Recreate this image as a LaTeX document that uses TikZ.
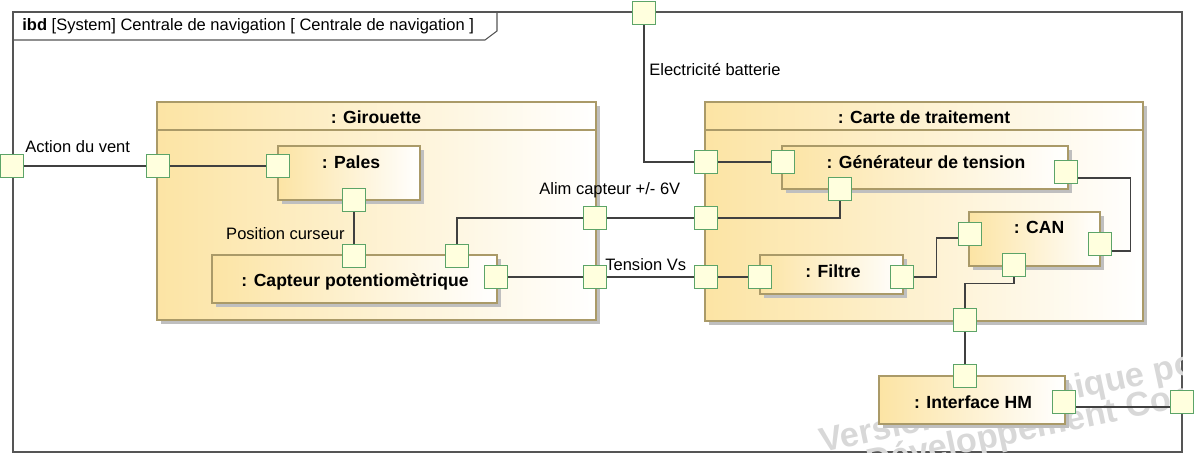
\documentclass[tikz,border=0pt]{standalone}
\usepackage{fontspec}
\setmainfont{Liberation Sans}
\usepackage{tikz}
\usetikzlibrary{positioning, fit, calc, shadows}
\definecolor{partorange}{RGB}{252,228,164}
\definecolor{partborder}{RGB}{170,154,104}
\definecolor{portgreen}{RGB}{92,164,104}
\definecolor{portyellow}{RGB}{255,255,222}
\definecolor{wiregray}{RGB}{64,64,64}
\definecolor{framegray}{RGB}{85,85,85}
\definecolor{markgray}{RGB}{216,216,216}

\begin{document}
\begin{tikzpicture}[x=0.02cm, y=-0.02cm,
    partbox/.style={draw=partborder, line width=0.6pt, left color=partorange, right color=white, inner sep=0pt,
        drop shadow={shadow xshift=2.2pt, shadow yshift=-2.2pt, fill=black!25, opacity=1}},
    portbox/.style={draw=portgreen, line width=0.7pt, fill=portyellow, minimum size=0.46cm, inner sep=0pt},
    wire/.style={draw=wiregray, line width=0.6pt},
    parttitle/.style={font=\fontsize{10}{12}\selectfont\bfseries, inner sep=0pt},
    marktext/.style={font=\fontsize{19.5}{22}\selectfont\bfseries, text=markgray, rotate=12, anchor=base west, inner sep=0pt},
    lbl/.style={font=\fontsize{9.4}{11}\selectfont, inner sep=0pt}]
\useasboundingbox (0,0) rectangle (1194,456);

% Frame
\draw[framegray, line width=0.6pt] (13,12) rectangle (1182,452);
\draw[framegray, line width=0.6pt] (13,40) -- (485,40) -- (497,31) -- (497,12);
\node[lbl, anchor=west] (header) at (22,26) {\textbf{ibd} [System] Centrale de navigation [ Centrale de navigation ]};

% Watermark
\begin{scope}
    \clip (13,12) rectangle (1182,452);
    \node[marktext] (mark1) at (822,453) {Version académique pour};
    \node[marktext] (mark2) at (869,474) {Développement Commercial};
\end{scope}

% Parts
\node[partbox, fit={(157,102) (596,320)}] (girouette) {};
\draw[partborder, line width=0.6pt] (girouette.west |- 0,130) -- (girouette.east |- 0,130);
\node[parttitle] (girouetteT) at (376,117) {: Girouette};

\node[partbox, fit={(705,102) (1143,321)}] (carte) {};
\draw[partborder, line width=0.6pt] (carte.west |- 0,130) -- (carte.east |- 0,130);
\node[parttitle] (carteT) at (924,117) {: Carte de traitement};

\node[partbox, fit={(278,146) (420,200)}] (pales) {};
\node[parttitle] (palesT) at (351,162) {: Pales};

\node[partbox, fit={(212,255) (497,303)}] (capteur) {};
\node[parttitle] (capteurT) at (355,282) {: Capteur potentiomètrique};

\node[partbox, fit={(782,146) (1068,189)}] (gen) {};
\node[parttitle] (genT) at (926,162) {: Générateur de tension};

\node[partbox, fit={(969,212) (1100,266)}] (can) {};
\node[parttitle] (canT) at (1039,227) {: CAN};

\node[partbox, fit={(760,255) (903,294)}] (filtre) {};
\node[parttitle] (filtreT) at (833,271) {: Filtre};

\node[partbox, fit={(879,376) (1065,424)}] (ihm) {};
\node[parttitle] (ihmT) at (973,402) {: Interface HM};

% Ports
\node[portbox] (pFrameL) at (12,166) {};
\node[portbox] (pFrameR) at (1182,402) {};
\node[portbox] (pTop) at (644,13) {};
\node[portbox] (pGirL) at (158,166) {};
\node[portbox] (pGirR1) at (595,218) {};
\node[portbox] (pGirR2) at (595,277) {};
\node[portbox] (pPalesL) at (278,166) {};
\node[portbox] (pPalesB) at (354,200) {};
\node[portbox] (pCapT1) at (354,256) {};
\node[portbox] (pCapT2) at (457,256) {};
\node[portbox] (pCapR) at (496,277) {};
\node[portbox] (pCarteL1) at (706,162) {};
\node[portbox] (pCarteL2) at (706,218) {};
\node[portbox] (pCarteL3) at (706,277) {};
\node[portbox] (pCarteB) at (965,320) {};
\node[portbox] (pGenL) at (783,162) {};
\node[portbox] (pGenB) at (840,189) {};
\node[portbox] (pGenR) at (1066,172) {};
\node[portbox] (pCanL) at (970,234) {};
\node[portbox] (pCanR) at (1100,244) {};
\node[portbox] (pCanB) at (1014,265) {};
\node[portbox] (pFiltreL) at (760,277) {};
\node[portbox] (pFiltreR) at (902,277) {};
\node[portbox] (pIhmT) at (965,376) {};
\node[portbox] (pIhmR) at (1064,402) {};

% Connectors
\draw[wire] (pFrameL) -- (pGirL);
\draw[wire] (pGirL) -- (pPalesL);
\draw[wire] (pPalesB) -- (pCapT1);
\draw[wire] (pCapT2) |- (pGirR1);
\draw[wire] (pCapR) -- (pGirR2);
\draw[wire] (pGirR1) -- (pCarteL2);
\draw[wire] (pGirR2) -- (pCarteL3);
\draw[wire] (pTop) |- (pCarteL1);
\draw[wire] (pCarteL1) -- (pGenL);
\draw[wire] (pCarteL2) -| (pGenB);
\draw[wire] ($(pGenR.east)+(0,6)$) -- ++(52,0) |- ($(pCanR.east)+(0,7)$);
\draw[wire] (pCarteL3) -- (pFiltreL);
\draw[wire] (pFiltreR.east) -- ++(22,0) |- ($(pCanL.west)+(0,4)$);
\draw[wire] (pCanB.south) -- ++(0,6) -| (pCarteB);
\draw[wire] (pCarteB) -- (pIhmT);
\draw[wire] ($(pIhmR.east)+(0,5)$) -- ($(pFrameR.west)+(0,5)$);

% Labels
\node[lbl, anchor=west] (ventL) at (25,147) {Action du vent};
\node[lbl, anchor=east] (curseurL) at (345,234) {Position curseur};
\node[lbl, anchor=west] (alimL) at (539,190) {Alim capteur +/- 6V};
\node[lbl, anchor=west] (tensionL) at (605,265) {Tension Vs};
\node[lbl, anchor=west] (batterieL) at (649,70) {Electricité batterie};
\end{tikzpicture}
\end{document}
